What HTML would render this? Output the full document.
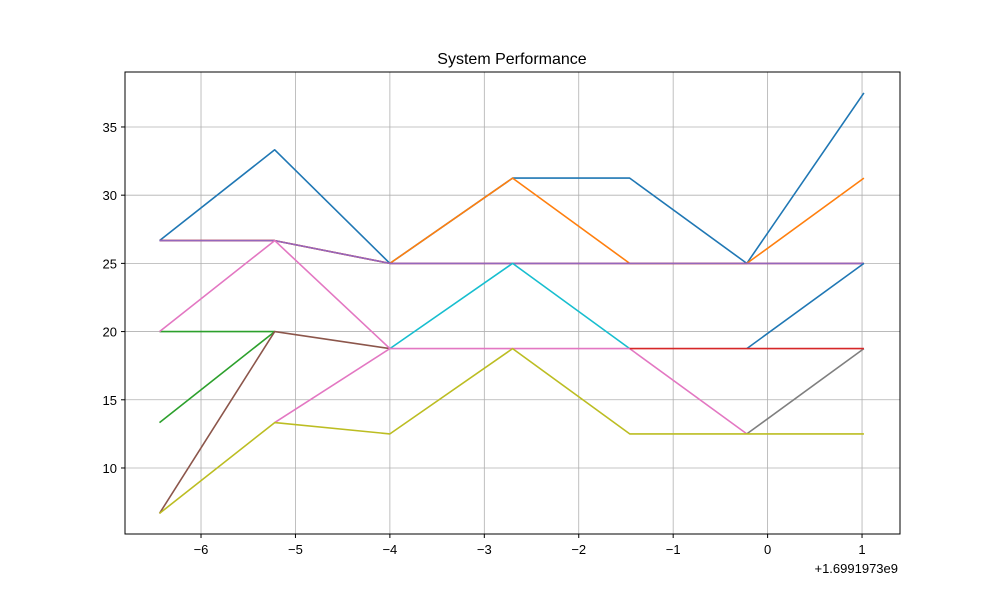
<!DOCTYPE html>
<html><head><meta charset="utf-8"><style>
body{margin:0;background:#fff}
svg text{font-family:"Liberation Sans","DejaVu Sans",sans-serif;fill:#000}
</style></head><body>
<svg id="chart" width="1000" height="600" xmlns="http://www.w3.org/2000/svg">
<rect width="1000" height="600" fill="#fff"/>
<text x="512" y="64" font-size="16" text-anchor="middle">System Performance</text>
<g id="grid"></g>
<g id="series"></g>
<rect x="125" y="72" width="775" height="462" fill="none" stroke="#000" stroke-width="1"/>
<g id="ticks"></g>
<text x="898" y="573" font-size="13" text-anchor="end">+1.6991973e9</text>
</svg>
<script>
const xVals = [-6.44, -5.22, -4, -2.70, -1.46, -0.22, 1.02];
const xTicks = [-6, -5, -4, -3, -2, -1, 0, 1];
const yTicks = [10, 15, 20, 25, 30, 35];
const sBlueA = [26.67,33.33,25,31.25,31.25,25,37.5];
const sOrange = [26.67,26.67,25,31.25,25,25,31.25];
const sRedA = [26.67,26.67,25,25,25,25,25];
const sPurple = [26.67,26.67,25,25,25,25,25];
const sCyan = [null,null,18.75,25,18.75,null,null];
const sBlueB = [null,null,null,null,null,18.75,25];
const sGreenA = [13.33,20,null,null,null,null,null];
const sGreenB = [20,20,null,null,null,null,null];
const sBrown = [6.67,20,18.75,null,null,null,null];
const sPinkA = [20,26.67,18.75,18.75,18.75,12.5,null];
const sPinkB = [null,13.33,18.75,null,null,null,null];
const sGray = [null,null,null,null,null,12.5,18.75];
const sOlive = [6.67,13.33,12.5,18.75,12.5,12.5,12.5];
const sRedB = [null,null,null,null,18.75,18.75,18.75];
const allSeries = [sBlueA,sOrange,sRedA,sPurple,sCyan,sBlueB,sGreenA,sGreenB,sBrown,sPinkA,sPinkB,sGray,sOlive,sRedB];
const colors = ['#1f77b4','#ff7f0e','#d62728','#9467bd','#17becf','#1f77b4','#2ca02c','#2ca02c','#8c564b','#e377c2','#e377c2','#7f7f7f','#bcbd22','#d62728'];
const X0=125,X1=900,Y0=72,Y1=534, xmin=-6.805,xmax=1.402,ymin=5.16,ymax=39.03;
const xs=v=>X0+(v-xmin)/(xmax-xmin)*(X1-X0);
const ys=v=>Y1-(v-ymin)/(ymax-ymin)*(Y1-Y0);
const NS='http://www.w3.org/2000/svg';
const grid=document.getElementById('grid'),ticks=document.getElementById('ticks'),ser=document.getElementById('series');
function mk(t,a,p){const e=document.createElementNS(NS,t);for(const k in a)e.setAttribute(k,a[k]);p.appendChild(e);return e;}
xTicks.forEach(t=>{const x=xs(t);
 const g=mk('line',{x1:x,x2:x,y1:Y0,y2:Y1,stroke:'#b0b0b0','stroke-width':0.8},grid);
 
 
 mk('line',{x1:x,x2:x,y1:Y1,y2:Y1+4,stroke:'#000'},ticks);
 const l=mk('text',{x:x,y:Y1+20,'font-size':13,'text-anchor':'middle'},ticks);
 l.textContent=t<0?'\u2212'+(-t):String(t);
 
 });
yTicks.forEach(t=>{const y=ys(t);
 const g=mk('line',{x1:X0,x2:X1,y1:y,y2:y,stroke:'#b0b0b0','stroke-width':0.8},grid);
 
 
 mk('line',{x1:X0-4,x2:X0,y1:y,y2:y,stroke:'#000'},ticks);
 const l=mk('text',{x:X0-8,y:y+5,'font-size':13,'text-anchor':'end'},ticks);
 l.textContent=String(t);
 
 });
allSeries.forEach((s,i)=>{
 let d='',pen=false;
 s.forEach((v,j)=>{ if(v===null){pen=false;return;}
   d+=(pen?'L':'M')+xs(xVals[j]).toFixed(1)+','+ys(v).toFixed(1); pen=true;});
 const p=mk('path',{d:d,fill:'none',stroke:colors[i],'stroke-width':1.6,'stroke-linejoin':'round'},ser);
 
 });
</script>
</body></html>
